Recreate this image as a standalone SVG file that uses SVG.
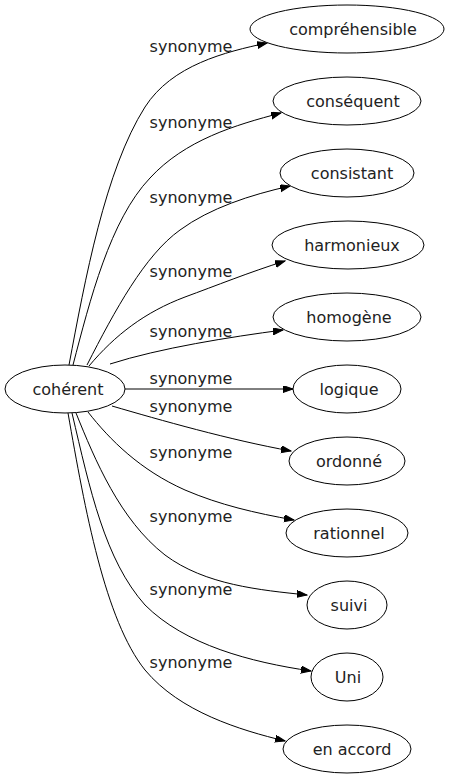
<svg xmlns="http://www.w3.org/2000/svg" width="449" height="779" viewBox="0 0 449 779">
<defs>
<marker id="arr" markerUnits="userSpaceOnUse" markerWidth="11" markerHeight="8" refX="10" refY="3.5" orient="auto">
<path d="M0,0 L10,3.5 L0,7 z" fill="#000" stroke="#000" stroke-width="1"/>
</marker>
</defs>
<style>
.n ellipse{fill:#fff;stroke:#000;stroke-width:1}
.n text{font-family:"DejaVu Sans",sans-serif;font-size:16px;fill:#222;text-anchor:middle}
#edges path{fill:none;stroke:#000;stroke-width:1;marker-end:url(#arr)}
#edges text{font-family:"DejaVu Sans",sans-serif;font-size:16px;fill:#222;text-anchor:middle}
</style>
<rect width="449" height="779" fill="#fff"/>
<g id="edges">
<path d="M69,365 C85,280 105,170 145,107 C172,65 225,52 267,43"/>
<path d="M73,365 C90,300 110,220 150,178 C185,140 235,125 281,113"/>
<path d="M87,365 C115,310 145,255 180,230 C210,208 250,195 290,186"/>
<path d="M89,366 C115,335 145,312 185,297 C215,286 250,272 285,261"/>
<path d="M110,364 C160,348 230,337 283,330"/>
<path d="M125,389 L293,389"/>
<path d="M112,406 C160,420 230,440 291,451"/>
<path d="M88,412 C110,440 140,470 185,490 C220,505 255,513 294,520"/>
<path d="M76,413 C95,460 120,520 165,555 C205,585 260,590 307,595"/>
<path d="M72,413 C90,490 105,560 145,605 C185,645 250,662 311,671"/>
<path d="M68,413 C85,510 105,620 145,670 C180,712 240,730 285,741"/>
<text x="191" y="52">synonyme</text>
<text x="191" y="128">synonyme</text>
<text x="191" y="203">synonyme</text>
<text x="191" y="277">synonyme</text>
<text x="191" y="337">synonyme</text>
<text x="191" y="384">synonyme</text>
<text x="191" y="412">synonyme</text>
<text x="191" y="458">synonyme</text>
<text x="191" y="522">synonyme</text>
<text x="191" y="595">synonyme</text>
<text x="191" y="668">synonyme</text>
</g>
<g id="coherent" class="n"><ellipse cx="65" cy="389" rx="60" ry="24"/><text x="68" y="395">cohérent</text></g>
<g id="comprehensible" class="n"><ellipse cx="347" cy="29" rx="97" ry="24"/><text x="353" y="35">compréhensible</text></g>
<g id="consequent" class="n"><ellipse cx="347" cy="101" rx="74" ry="24"/><text x="353" y="107">conséquent</text></g>
<g id="consistant" class="n"><ellipse cx="347" cy="173" rx="67" ry="24"/><text x="352" y="179">consistant</text></g>
<g id="harmonieux" class="n"><ellipse cx="348" cy="245" rx="76" ry="24"/><text x="352" y="251">harmonieux</text></g>
<g id="homogene" class="n"><ellipse cx="347" cy="317" rx="74" ry="24"/><text x="349" y="323">homogène</text></g>
<g id="logique" class="n"><ellipse cx="347" cy="389" rx="54" ry="24"/><text x="349" y="395">logique</text></g>
<g id="ordonne" class="n"><ellipse cx="347" cy="461" rx="58" ry="24"/><text x="349" y="467">ordonné</text></g>
<g id="rationnel" class="n"><ellipse cx="347" cy="533" rx="61" ry="24"/><text x="349" y="539">rationnel</text></g>
<g id="suivi" class="n"><ellipse cx="347" cy="605" rx="40" ry="24"/><text x="349" y="611">suivi</text></g>
<g id="uni" class="n"><ellipse cx="347" cy="677" rx="36" ry="24"/><text x="348" y="683">Uni</text></g>
<g id="en_accord" class="n"><ellipse cx="347" cy="749" rx="64" ry="24"/><text x="352" y="755">en accord</text></g>
</svg>
